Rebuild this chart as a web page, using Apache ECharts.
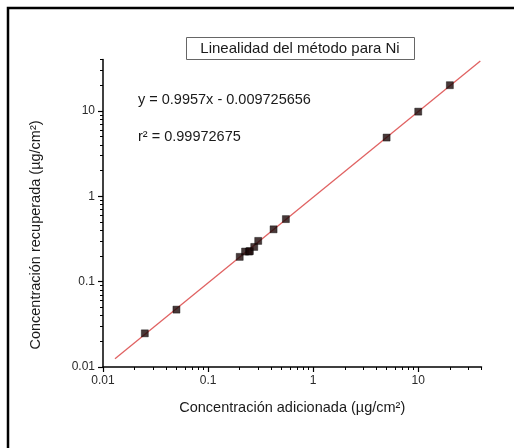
<!DOCTYPE html>
<html>
<head>
<meta charset="utf-8">
<script src="https://cdn.jsdelivr.net/npm/echarts@6/dist/echarts.min.js"></script>
<style>
html,body{margin:0;padding:0;background:#fff;}
#chart{width:514px;height:448px;}
</style>
</head>
<body>
<div id="chart"></div>
<script>
// Data
var addedConc = [0.025, 0.05, 0.2, 0.225, 0.245, 0.25, 0.275, 0.3, 0.42, 0.55, 5.0, 10.0, 20.0];
var recoveredConc = [0.0248, 0.047, 0.195, 0.225, 0.225, 0.228, 0.255, 0.3, 0.41, 0.54, 4.87, 9.8, 20.0];
var fitLineX = [0.013, 39];
var fitLineY = [0.0125, 38.5];
var majorTicks = [0.01, 0.1, 1, 10];
var minorTicks = [0.02, 0.03, 0.04, 0.05, 0.06, 0.07, 0.08, 0.09,
                  0.2, 0.3, 0.4, 0.5, 0.6, 0.7, 0.8, 0.9,
                  2, 3, 4, 5, 6, 7, 8, 9,
                  20, 30, 40];
var titleText = 'Linealidad del método para Ni';
var equationText = 'y = 0.9957x - 0.009725656';
var r2Text = 'r² = 0.99972675';
var xName = 'Concentración adicionada (µg/cm²)';
var yName = 'Concentración recuperada (µg/cm²)';

var FONT = '"Liberation Sans", Arial, sans-serif';
var pts = addedConc.map(function (x, i) { return [x, recoveredConc[i]]; });
var fitPts = fitLineX.map(function (x, i) { return [x, fitLineY[i]]; });

function fmt(v) { return String(+(+v).toPrecision(3)); }

var grid = { left: 103, right: 32.5, top: 59.5, bottom: 81 };

function majorAxis(isX) {
  return {
    type: 'log', logBase: 10, min: 0.01, max: 40,
    gridIndex: 0,
    position: isX ? 'bottom' : 'left',
    name: isX ? xName : '',
    nameLocation: 'middle',
    nameGap: 33,
    nameTextStyle: { fontFamily: FONT, fontSize: 14.5, color: '#1a1a1a' },
    axisLine: { show: true, lineStyle: { color: '#000', width: 1.5 } },
    axisTick: { show: true, length: 5, lineStyle: { color: '#000', width: 1.2 }, customValues: majorTicks },
    axisLabel: { show: true, margin: 8, fontFamily: FONT, fontSize: 12, color: '#2a2a2a', formatter: fmt, customValues: majorTicks },
    splitLine: { show: false },
    minorTick: { show: false }
  };
}
function minorAxis(isX) {
  return {
    type: 'log', logBase: 10, min: 0.01, max: 40,
    gridIndex: 0,
    position: isX ? 'bottom' : 'left',
    axisLine: { show: false },
    axisTick: { show: true, length: 3, lineStyle: { color: '#000', width: 1 }, customValues: minorTicks },
    axisLabel: { show: false },
    splitLine: { show: false }
  };
}

var chart = echarts.init(document.getElementById('chart'), null, { renderer: 'canvas' });
chart.setOption({
  animation: false,
  backgroundColor: '#fff',
  grid: grid,
  xAxis: [majorAxis(true), minorAxis(true)],
  yAxis: [majorAxis(false), minorAxis(false)],
  series: [
    {
      type: 'line',
      xAxisIndex: 0, yAxisIndex: 0,
      data: fitPts,
      showSymbol: false,
      symbol: 'none',
      lineStyle: { color: '#e06262', width: 1.3 },
      z: 2
    },
    {
      type: 'scatter',
      xAxisIndex: 0, yAxisIndex: 0,
      data: pts,
      symbol: 'rect',
      symbolSize: 7,
      itemStyle: { color: '#1a0808', borderColor: '#000', borderWidth: 0.5 },
      z: 3
    }
  ],
  graphic: [
    {
      type: 'rect',
      shape: { x: 8, y: 8, width: 540, height: 480 },
      style: { fill: 'none', stroke: '#000', lineWidth: 2.5 },
      silent: true
    },
    {
      type: 'rect',
      shape: { x: 186.5, y: 37.5, width: 228, height: 22 },
      style: { fill: '#fff', stroke: '#666', lineWidth: 1 },
      silent: true
    },
    {
      type: 'text',
      x: 300, y: 49,
      style: { text: titleText, fontFamily: FONT, fontSize: 15, fill: '#1a1a1a', align: 'center', verticalAlign: 'middle' }
    },
    {
      type: 'text',
      x: 138, y: 100,
      style: { text: equationText, fontFamily: FONT, fontSize: 14.5, fill: '#1a1a1a', align: 'left', verticalAlign: 'middle' }
    },
    {
      type: 'text',
      x: 138, y: 137,
      style: { text: r2Text, fontFamily: FONT, fontSize: 14.5, fill: '#1a1a1a', align: 'left', verticalAlign: 'middle' }
    },
    {
      type: 'text',
      x: 35.5, y: 235,
      rotation: Math.PI / 2,
      style: { text: yName, fontFamily: FONT, fontSize: 14.5, fill: '#1a1a1a', align: 'center', verticalAlign: 'middle' }
    }
  ]
});
</script>
</body>
</html>
